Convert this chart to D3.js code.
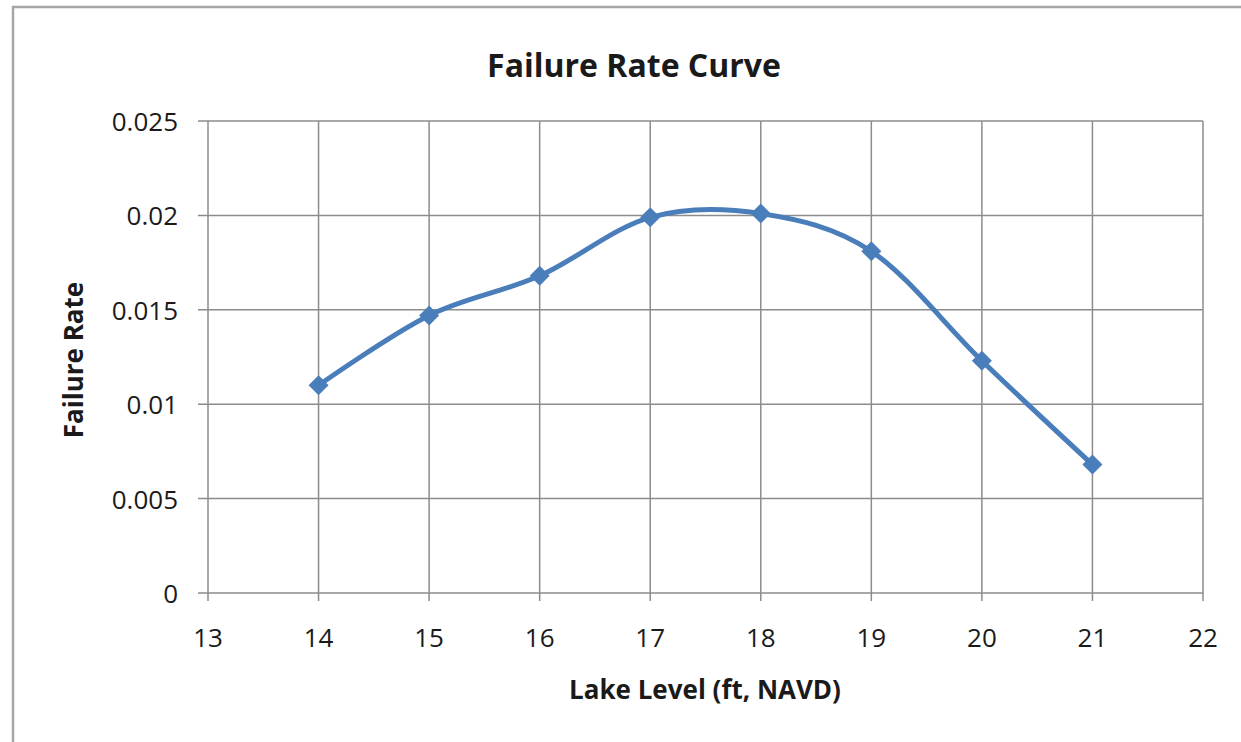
<!DOCTYPE html>
<html>
<head>
<meta charset="utf-8">
<script src="https://cdn.jsdelivr.net/npm/d3@7"></script>
<style>
  body { margin: 0; background: #fff; }
  text { font-family: "Open Sans", "Noto Sans", sans-serif; fill: #1a1a1a; }
</style>
</head>
<body>
<div id="chart"></div>
<script>
// lake level (ft, NAVD) and failure rate
const lakeLevels = [14, 15, 16, 17, 18, 19, 20, 21];
const failureRates = [0.0110, 0.0147, 0.0168, 0.0199, 0.0201, 0.0181, 0.0123, 0.0068];
const xTicks = [13, 14, 15, 16, 17, 18, 19, 20, 21, 22];
const yTicks = [0, 0.005, 0.01, 0.015, 0.02, 0.025];
const yTickLabels = ["0", "0.005", "0.01", "0.015", "0.02", "0.025"];

const W = 1241, H = 742;
let margin = {top: 121, right: 38, bottom: 149, left: 208},
    width = W - margin.left - margin.right,
    height = H - margin.top - margin.bottom;

let root = d3.select("#chart").append("svg")
    .attr("width", W)
    .attr("height", H);

// outer chart border (only top and left visible in the picture)
root.append("path")
    .attr("d", `M13,${H} L13,7 L${W},7`)
    .attr("fill", "none")
    .attr("stroke", "#a6a6a6")
    .attr("stroke-width", 2.5);

let svg = root.append("g")
    .attr("transform", `translate(${margin.left},${margin.top})`);

let x = d3.scaleLinear().domain([13, 22]).range([0, width]);
let y = d3.scaleLinear().domain([0, 0.025]).range([height, 0]);

const gridColor = "#8c8c8c";

// horizontal grid
svg.append("g")
    .selectAll("line")
    .data(yTicks)
    .join("line")
    .attr("x1", -10).attr("x2", width)
    .attr("y1", d => y(d)).attr("y2", d => y(d))
    .attr("stroke", gridColor)
    .attr("stroke-width", 1.5);

// vertical grid
svg.append("g")
    .selectAll("line")
    .data(xTicks)
    .join("line")
    .attr("x1", d => x(d)).attr("x2", d => x(d))
    .attr("y1", 0).attr("y2", height + 8)
    .attr("stroke", gridColor)
    .attr("stroke-width", 1.5);

// tick labels
svg.append("g")
    .selectAll("text")
    .data(xTicks)
    .join("text")
    .attr("x", d => x(d))
    .attr("y", height + 54)
    .attr("text-anchor", "middle")
    .style("font-size", "26px")
    .text(d => d);

svg.append("g")
    .selectAll("text")
    .data(yTicks)
    .join("text")
    .attr("x", -30)
    .attr("y", d => y(d) + 10)
    .attr("text-anchor", "end")
    .style("font-size", "26px")
    .text((d, i) => yTickLabels[i]);

// smoothed series line
let pts = lakeLevels.map((d, i) => [d, failureRates[i]]);
svg.append("path")
    .datum(pts)
    .attr("fill", "none")
    .attr("stroke", "#4a7ebb")
    .attr("stroke-width", 5)
    .attr("d", d3.line()
        .curve(d3.curveCatmullRom.alpha(0))
        .x(d => x(d[0]))
        .y(d => y(d[1])));

// diamond markers
svg.append("g")
    .selectAll("path")
    .data(pts)
    .join("path")
    .attr("transform", d => `translate(${x(d[0])},${y(d[1])}) rotate(45)`)
    .attr("d", d3.symbol().type(d3.symbolSquare).size(200))
    .attr("fill", "#4a7ebb");

// titles
root.append("text")
    .attr("x", 634)
    .attr("y", 77)
    .attr("text-anchor", "middle")
    .style("font-size", "32px")
    .style("font-weight", "bold")
    .text("Failure Rate Curve");

root.append("text")
    .attr("x", 705)
    .attr("y", 699)
    .attr("text-anchor", "middle")
    .style("font-size", "26px")
    .style("font-weight", "bold")
    .text("Lake Level (ft, NAVD)");

root.append("text")
    .attr("transform", "translate(83,360) rotate(-90)")
    .attr("text-anchor", "middle")
    .style("font-size", "26px")
    .style("font-weight", "bold")
    .text("Failure Rate");
</script>
</body>
</html>
